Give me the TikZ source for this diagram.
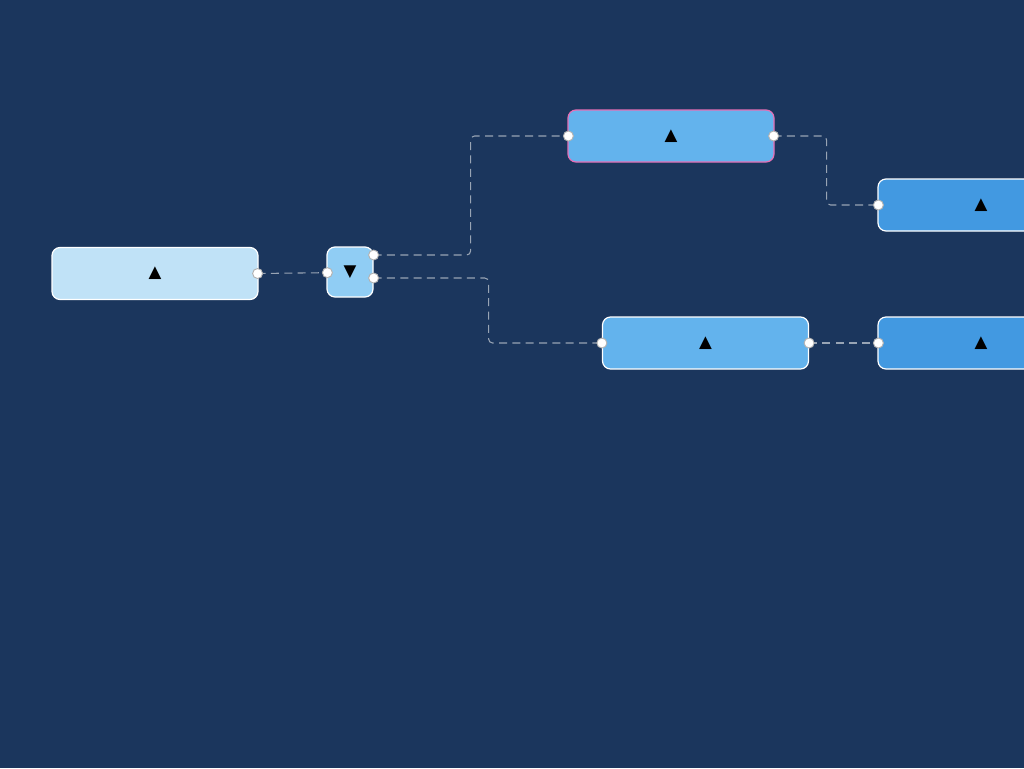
\documentclass[tikz,border=0pt]{standalone}
\usepackage{fontspec}
\newfontfamily\symfont{DejaVu Sans}
\definecolor{bgnavy}{HTML}{1B365D}
\definecolor{paleblue}{HTML}{C0E2F7}
\definecolor{lightblue}{HTML}{90CDF4}
\definecolor{midblue}{HTML}{63B3ED}
\definecolor{deepblue}{HTML}{4299E1}
\definecolor{linkgray}{HTML}{98A4B4}
\definecolor{pinkline}{HTML}{E56FB5}
\begin{document}
\begin{tikzpicture}[x=0.75pt, y=-0.75pt,
  topic/.style={draw=white, line width=0.9pt, rounded corners=6pt,
    minimum width=154.5pt, minimum height=39pt, inner sep=0pt,
    font=\symfont\fontsize{12.5}{14}\selectfont},
  link/.style={draw=linkgray, line width=0.8pt, dash pattern=on 6pt off 4pt, rounded corners=3pt},
  port/.style={circle, draw=gray!60, fill=white, line width=0.7pt, minimum size=7.5pt, inner sep=0pt}]
  \fill[bgnavy] (0,0) rectangle (1024,768);
  \useasboundingbox (0,0) rectangle (1024,768);
  \clip (0,0) rectangle (1024,768);
  % topics
  \node[topic, fill=paleblue] (root) at (155,273.5) {▲};
  \node[topic, fill=lightblue, minimum width=34.5pt, minimum height=37.5pt] (hub) at (350,272) {▼};
  \node[topic, fill=midblue, draw=pinkline] (up) at (671,136) {▲};
  \node[topic, fill=deepblue] (upr) at (981,205) {▲};
  \node[topic, fill=midblue] (low) at (705.5,343) {▲};
  \node[topic, fill=deepblue] (lowr) at (981,343) {▲};
  % ports
  \coordinate (p-root) at ([xshift=-0.75pt]root.east);
  \coordinate (p-hubin) at ([xshift=0.75pt,yshift=-0.5pt]hub.west);
  \coordinate (p-hubup) at ([yshift=12.75pt]hub.east);
  \coordinate (p-hubdn) at ([yshift=-4.5pt]hub.east);
  \coordinate (p-upin) at ([xshift=0.75pt]up.west);
  \coordinate (p-upout) at ([xshift=-0.75pt]up.east);
  \coordinate (p-uprin) at ([xshift=0.75pt]upr.west);
  \coordinate (p-lowin) at (low.west);
  \coordinate (p-lowout) at (low.east);
  \coordinate (p-lowrin) at ([xshift=0.75pt]lowr.west);
  % links
  \draw[link] (p-root) -- (p-hubin);
  \draw[link] (p-hubup) -- ++(97,0) |- (p-upin);
  \draw[link] (p-hubdn) -- ++(115,0) |- (p-lowin);
  \draw[link] (p-upout) -- ++(53,0) |- (p-uprin);
  \draw[link] (p-lowout) -- (p-lowrin);
  \foreach \p in {root,hubin,hubup,hubdn,upin,upout,uprin,lowin,lowout,lowrin}
    \node[port] at (p-\p) {};
\end{tikzpicture}
\end{document}
